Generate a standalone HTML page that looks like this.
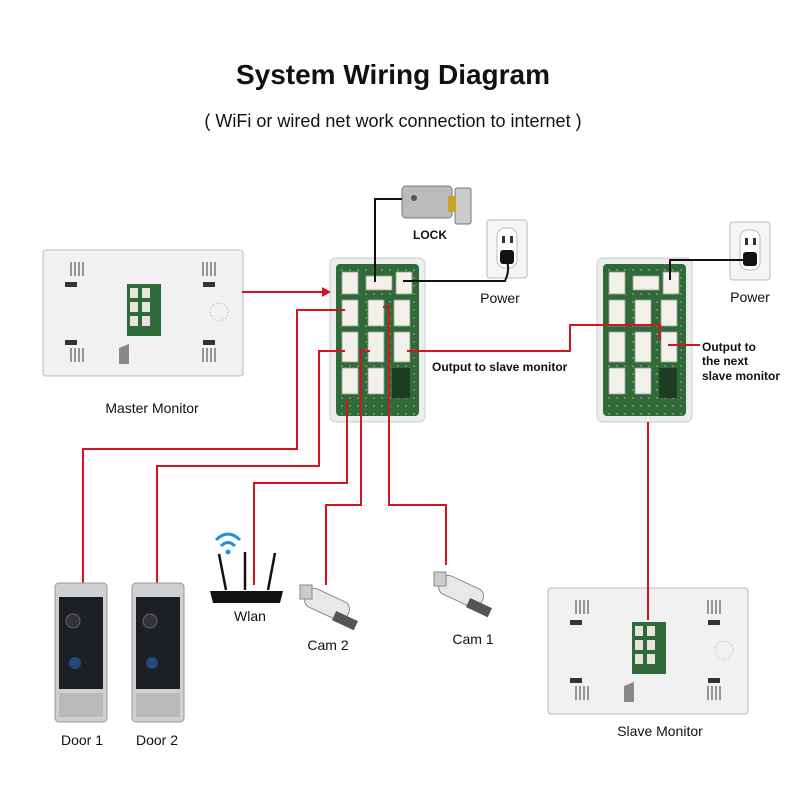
<!DOCTYPE html>
<html><head><meta charset="utf-8"><style>
body{margin:0;background:#fff;}
svg{display:block}
text{font-family:"Liberation Sans",sans-serif;fill:#111}
</style></head><body>
<svg width="800" height="800" viewBox="0 0 800 800" xmlns="http://www.w3.org/2000/svg">
<defs>
<pattern id="pcb" width="8" height="8" patternUnits="userSpaceOnUse"><rect width="8" height="8" fill="#2f6b3a"/><circle cx="4" cy="4" r="0.8" fill="#c9b35a"/></pattern>
<g id="hub">
<rect x="0" y="0" width="95" height="164" rx="6" fill="#eceeed" stroke="#ccc"/>
<rect x="6" y="6" width="83" height="152" rx="4" fill="url(#pcb)"/>
<g fill="#f3f1ea" stroke="#999" stroke-width="0.8">
<rect x="12" y="14" width="16" height="22"/><rect x="36" y="18" width="26" height="14"/><rect x="66" y="14" width="16" height="22"/>
<rect x="12" y="42" width="16" height="26"/><rect x="38" y="42" width="16" height="26"/><rect x="64" y="42" width="16" height="26"/>
<rect x="12" y="74" width="16" height="30"/><rect x="38" y="74" width="16" height="30"/><rect x="64" y="74" width="16" height="30"/>
<rect x="12" y="110" width="16" height="26"/><rect x="38" y="110" width="16" height="26"/>
</g>
<rect x="62" y="110" width="18" height="30" fill="#1d3d24"/>
</g>
<g id="mon">
<rect x="0" y="0" width="200" height="126" rx="3" fill="#f1f1f1" stroke="#bbb"/>
<rect x="84" y="34" width="34" height="52" fill="#2f6b3a"/>
<g fill="#e6e4dc"><rect x="87" y="38" width="8" height="10"/><rect x="99" y="38" width="8" height="10"/><rect x="87" y="52" width="8" height="10"/><rect x="99" y="52" width="8" height="10"/><rect x="87" y="66" width="8" height="10"/><rect x="99" y="66" width="8" height="10"/></g>
<g fill="#333"><rect x="22" y="32" width="12" height="5"/><rect x="160" y="32" width="12" height="5"/><rect x="22" y="90" width="12" height="5"/><rect x="160" y="90" width="12" height="5"/></g>
<g stroke="#777" stroke-width="1.5"><path d="M28 12v14M32 12v14M36 12v14M40 12v14M160 12v14M164 12v14M168 12v14M172 12v14M28 98v14M32 98v14M36 98v14M40 98v14M160 98v14M164 98v14M168 98v14M172 98v14"/></g>
<circle cx="176" cy="62" r="9" fill="none" stroke="#aaa" stroke-dasharray="1 2"/>
<path d="M76 98 l10 -4 v20 h-10z" fill="#888"/>
</g>
<g id="door">
<rect x="0" y="0" width="52" height="139" rx="4" fill="#cfd0d2" stroke="#999"/>
<rect x="4" y="14" width="44" height="92" fill="#1c1f24"/>
<circle cx="18" cy="38" r="7" fill="#333" stroke="#666"/>
<circle cx="20" cy="80" r="6" fill="#244a7a"/>
<rect x="4" y="110" width="44" height="24" fill="#b8b9bb"/>
</g>
<g id="cam">
<rect x="6" y="10" width="46" height="20" rx="8" fill="#e8e8e8" stroke="#888" transform="rotate(25 30 20)"/>
<rect x="40" y="22" width="24" height="10" fill="#555" transform="rotate(25 30 20)"/>
<rect x="2" y="0" width="12" height="14" fill="#ccc" stroke="#888"/>
</g>
<g id="outlet">
<rect x="0" y="0" width="40" height="58" rx="3" fill="#f5f5f5" stroke="#bbb"/>
<rect x="10" y="8" width="20" height="40" rx="8" fill="#fff" stroke="#bbb"/>
<rect x="15" y="16" width="3" height="7" fill="#333"/><rect x="23" y="16" width="3" height="7" fill="#333"/>
<rect x="13" y="30" width="14" height="14" rx="3" fill="#111"/>
</g>
</defs>

<text x="393" y="84" font-size="28" font-weight="bold" text-anchor="middle">System Wiring Diagram</text>
<text x="393" y="127" font-size="18" text-anchor="middle">( WiFi or wired net work connection to internet )</text>

<use href="#mon" x="43" y="250"/>
<text x="152" y="413" font-size="14" text-anchor="middle">Master Monitor</text>
<use href="#mon" x="548" y="588"/>
<text x="660" y="736" font-size="14" text-anchor="middle">Slave Monitor</text>

<!-- lock -->
<rect x="402" y="186" width="50" height="32" rx="4" fill="#bbb" stroke="#777"/>
<rect x="455" y="188" width="16" height="36" rx="2" fill="#ccc" stroke="#777"/>
<rect x="448" y="196" width="8" height="16" fill="#c9a227"/>
<circle cx="414" cy="198" r="3" fill="#555"/>
<text x="430" y="239" font-size="12" font-weight="bold" text-anchor="middle">LOCK</text>
<use href="#outlet" x="487" y="220"/>
<text x="500" y="303" font-size="14" text-anchor="middle">Power</text>
<use href="#outlet" x="730" y="222"/>
<text x="750" y="302" font-size="14" text-anchor="middle">Power</text>

<use href="#hub" x="330" y="258"/>
<use href="#hub" x="597" y="258"/>

<g fill="none" stroke="#111" stroke-width="2">
<path d="M375 282 V199 H402"/>
<path d="M403 281 H505 Q510 270 507 262"/>
<path d="M670 280 V260 H748"/>
</g>

<g fill="none" stroke="#d4161c" stroke-width="2">
<path d="M242 292 H324"/>
<path d="M407 351 H570 V325 H660 V340"/>
<path d="M668 345 H700"/>
<path d="M648 422 V620"/>
<path d="M83 585 V449 H297 V310 H345"/>
<path d="M157 585 V466 H319 V351 H345"/>
<path d="M254 585 V483 H347 V400"/>
<path d="M326 585 V505 H361 V351 H370"/>
<path d="M446 565 V505 H389 V307 H383"/>
</g>
<path d="M322 287 L331 292 L322 297z" fill="#d4161c"/>
<text x="432" y="371" font-size="12" font-weight="bold">Output to slave monitor</text>
<text x="702" y="351" font-size="12" font-weight="bold">Output to</text>
<text x="702" y="365" font-size="12" font-weight="bold">the next</text>
<text x="702" y="380" font-size="12" font-weight="bold">slave monitor</text>

<use href="#door" x="55" y="583"/>
<use href="#door" x="132" y="583"/>
<text x="82" y="745" font-size="14" text-anchor="middle">Door 1</text>
<text x="157" y="745" font-size="14" text-anchor="middle">Door 2</text>

<!-- router -->
<g stroke="#111" stroke-width="2.5"><path d="M226 590 L219 554 M245 590 L245 552 M268 590 L275 553"/></g>
<path d="M210 591 H283 L280 603 H213z" fill="#111"/>
<g fill="none" stroke="#1e90e0" stroke-width="3"><path d="M216 540 Q228 528 240 540"/><path d="M221 546 Q228 539 235 546"/></g>
<circle cx="228" cy="552" r="2.5" fill="#1e90e0"/>
<text x="250" y="621" font-size="14" text-anchor="middle">Wlan</text>

<use href="#cam" x="298" y="585"/>
<text x="328" y="650" font-size="14" text-anchor="middle">Cam 2</text>
<use href="#cam" x="432" y="572"/>
<text x="473" y="644" font-size="14" text-anchor="middle">Cam 1</text>
</svg>
</body></html>
